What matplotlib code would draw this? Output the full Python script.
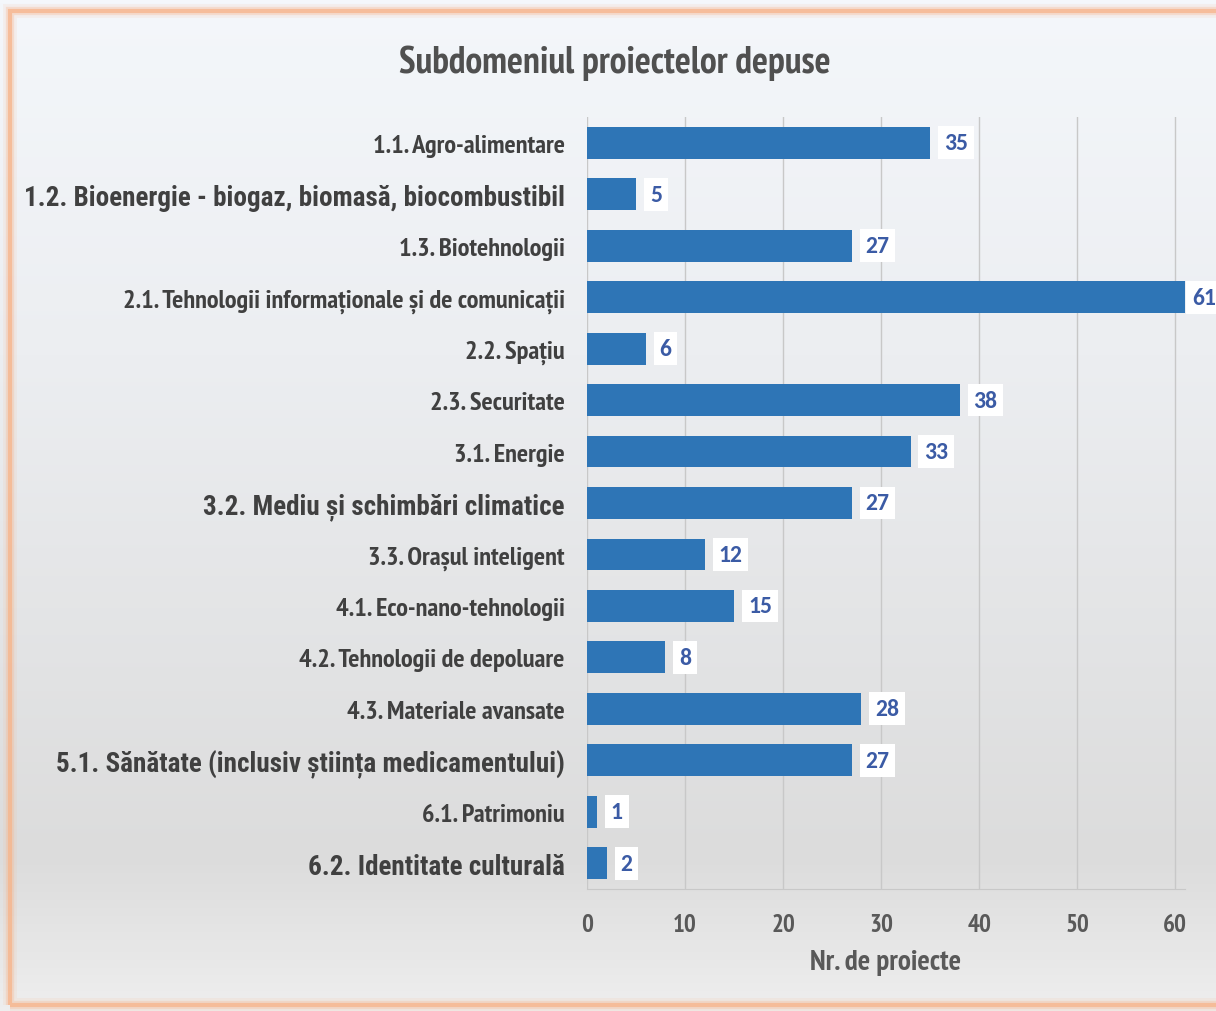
import numpy as np
import matplotlib.pyplot as plt
from matplotlib.patches import Rectangle
from matplotlib.colors import LinearSegmentedColormap

# Data
categories = [
    '1.1. Agro-alimentare',
    '1.2. Bioenergie - biogaz, biomasă, biocombustibil',
    '1.3. Biotehnologii',
    '2.1. Tehnologii informaționale și de comunicații',
    '2.2. Spațiu',
    '2.3. Securitate',
    '3.1. Energie',
    '3.2. Mediu și schimbări climatice',
    '3.3. Orașul inteligent',
    '4.1. Eco-nano-tehnologii',
    '4.2. Tehnologii de depoluare',
    '4.3. Materiale avansate',
    '5.1. Sănătate (inclusiv știința medicamentului)',
    '6.1. Patrimoniu',
    '6.2. Identitate culturală',
]
values = [35, 5, 27, 61, 6, 38, 33, 27, 12, 15, 8, 28, 27, 1, 2]
# labels that are set in a different, larger font in the original
big_labels = ['1.2. Bioenergie - biogaz, biomasă, biocombustibil',
              '3.2. Mediu și schimbări climatice',
              '5.1. Sănătate (inclusiv știința medicamentului)',
              '6.2. Identitate culturală']
xticks = [0, 10, 20, 30, 40, 50, 60]

narrow = ['PT Sans Narrow', 'DejaVu Sans']
cond = ['Roboto Condensed', 'DejaVu Sans']
plt.rcParams['font.family'] = narrow

fig = plt.figure(figsize=(12.16, 10.12), dpi=100)

# Background gradient
bg = fig.add_axes([0, 0, 1, 1], zorder=-10)
cmap = LinearSegmentedColormap.from_list('bg', [
    (0.0, '#f4f7fb'), (0.35, '#eceef1'), (0.85, '#dcdcdc'), (1.0, '#eeeeee')])
grad = np.linspace(0, 1, 256).reshape(-1, 1)
bg.imshow(grad, aspect='auto', cmap=cmap, extent=[0, 1, 0, 1], origin='upper')
bg.set_xlim(0, 1)
bg.set_ylim(0, 1)
bg.axis('off')

# Orange frame with a soft glow
for lw, a in [(10, 0.12), (6, 0.3), (3, 0.75)]:
    bg.add_patch(Rectangle((10 / 1216, 6 / 1012), 1.2, 1 - 18 / 1012,
                           fill=False, edgecolor='#f7b48a', linewidth=lw, alpha=a,
                           transform=bg.transAxes, clip_on=False))

ax = fig.add_axes([587 / 1216, 1 - 890 / 1012, 598 / 1216, 772 / 1012])
ax.patch.set_alpha(0)

y = np.arange(len(categories))
ax.barh(y, values, height=0.62, color='#2e75b6', zorder=3)
ax.set_ylim(len(categories) - 0.5, -0.5)
ax.set_xlim(0, 61)
ax.set_yticks(y)
ax.set_yticklabels(categories)
for lbl in ax.get_yticklabels():
    lbl.set_fontweight('bold')
    lbl.set_color('#404040')
    if lbl.get_text() in big_labels:
        lbl.set_family(cond)
        lbl.set_fontsize(19.5)
    else:
        lbl.set_fontsize(19)
ax.tick_params(axis='y', length=0, pad=16)

ax.set_xticks(xticks)
ax.tick_params(axis='x', length=0, pad=17, labelsize=18, labelcolor='#595959')
for lbl in ax.get_xticklabels():
    lbl.set_fontweight('bold')

ax.grid(axis='x', color='#c8c8c8', linewidth=1, zorder=0)
for s in ['top', 'right', 'left']:
    ax.spines[s].set_visible(False)
ax.spines['bottom'].set_color('#c8c8c8')

# Data labels (the longest bar's label is pulled in so it stays inside the picture)
for yi, v in zip(y, values):
    off = 10 if v < max(values) else 5
    ax.annotate(str(v), (v, yi), xytext=(off, 0), textcoords='offset points',
                va='center', ha='left', fontsize=17, fontweight='bold', color='#3b5ba5',
                family=['Carlito', 'DejaVu Sans'],
                bbox=dict(boxstyle='square,pad=0.25', facecolor='white', edgecolor='none'),
                zorder=5, annotation_clip=False)

ax.set_xlabel('Nr. de proiecte', fontsize=21, fontweight='bold', color='#595959')
ax.xaxis.set_label_coords(0.5, -(963 - 890) / 772)
ax.xaxis.label.set_va('center')

fig.text(615 / 1216, 1 - 63 / 1012, 'Subdomeniul proiectelor depuse', ha='center', va='center',
         fontsize=27, fontweight='bold', color='#505050')

plt.savefig('out.png', dpi=100)
